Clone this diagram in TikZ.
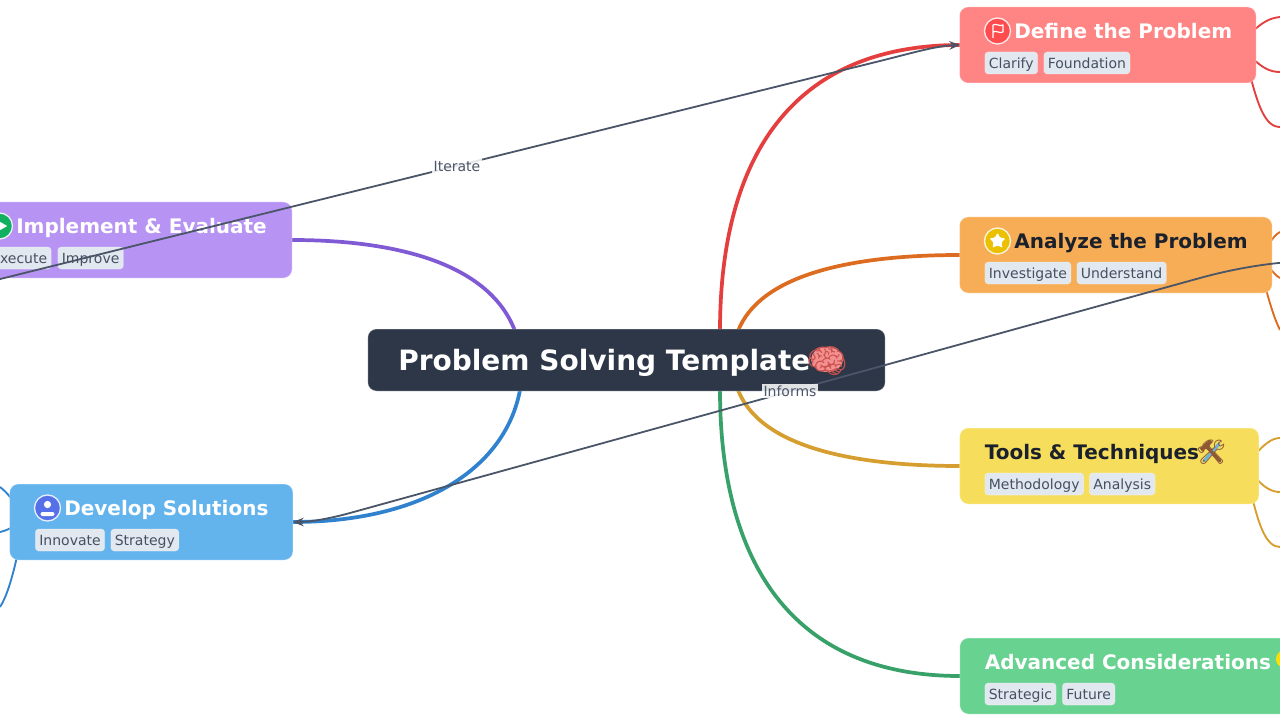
\documentclass[tikz,border=0pt]{standalone}
\usepackage{fontspec}
\setmainfont{DejaVu Sans}
\newfontfamily\emojifont{Noto Emoji}
\usetikzlibrary{arrows.meta,shapes.geometric}
\definecolor{rootc}{HTML}{2D3748}
\definecolor{dark}{HTML}{1A202C}
\definecolor{linkc}{HTML}{4A5568}
\definecolor{tagc}{HTML}{E2E8F0}
\definecolor{fR}{HTML}{FF8484}
\definecolor{fO}{HTML}{F6AD55}
\definecolor{fY}{HTML}{F6DE5C}
\definecolor{fG}{HTML}{68D391}
\definecolor{fP}{HTML}{B794F4}
\definecolor{fB}{HTML}{63B3ED}
\definecolor{lR}{HTML}{E53E3E}
\definecolor{lO}{HTML}{DD6B20}
\definecolor{lY}{HTML}{D69E2E}
\definecolor{lG}{HTML}{38A169}
\definecolor{lP}{HTML}{805AD5}
\definecolor{lB}{HTML}{3182CE}
\definecolor{iR}{HTML}{FF4D4F}
\definecolor{iY}{HTML}{EBC000}
\definecolor{iG}{HTML}{10B060}
\definecolor{iB}{HTML}{5570E8}
\definecolor{brainA}{HTML}{F48F8F}
\definecolor{brainB}{HTML}{C9524F}
\definecolor{hamm}{HTML}{8E5A35}
\definecolor{wren}{HTML}{6FB3D6}
\tikzset{
  px/.style={x=0.75pt,y=-0.75pt},
  box/.style={rectangle,rounded corners=6.5,inner sep=0pt,draw=white,draw opacity=.25,line width=.75pt},
  title/.style={anchor=base west,inner sep=0pt,font=\bfseries\fontsize{15pt}{18pt}\selectfont},
  tagbox/.style={anchor=west,rectangle,fill=tagc,draw=white,draw opacity=.3,line width=.5pt,rounded corners=2.5,inner xsep=3pt,inner ysep=0pt,text height=9.5pt,text depth=1.5pt,minimum height=16.5pt,text=linkc!90!dark,font=\fontsize{10.5pt}{12pt}\selectfont},
  main/.style={line width=2.8pt,line cap=round},
  sub/.style={line width=1.4pt},
  link/.style={draw=linkc,line width=1.35pt,-{Stealth[length=8pt,width=6.5pt]}},
  lab/.style={inner sep=1.2pt,fill=white,fill opacity=.85,text opacity=1,text=linkc,font=\fontsize{10.5pt}{12pt}\selectfont},
  icon/.style={circle,minimum size=19.5pt,inner sep=0pt,draw=white,draw opacity=.85,line width=1pt}
}
\begin{document}
\begin{tikzpicture}[px]
\useasboundingbox (0,0) rectangle (1280,720);
\clip (0,0) rectangle (1280,720);
% anchors of the connectors
\coordinate (rR) at (720,331);
\coordinate (rO) at (738,331);
\coordinate (rY) at (738,390);
\coordinate (rG) at (720,390);
\coordinate (rP) at (515,331);
\coordinate (rB) at (520,390);
\coordinate (eR) at (960,45);
\coordinate (eO) at (960,255);
\coordinate (eY) at (960,466);
\coordinate (eG) at (960,676);
\coordinate (eP) at (292,240);
\coordinate (eB) at (293,522);
\coordinate (x1) at (1280,17);
\coordinate (x2) at (1280,72);
\coordinate (x3) at (1280,127);
\coordinate (x4) at (1280,232);
\coordinate (x5) at (1280,278);
\coordinate (x6) at (1280,330);
\coordinate (x7) at (1280,438);
\coordinate (x8) at (1280,492);
\coordinate (x9) at (1280,547);
\coordinate (y1) at (0,487);
\coordinate (y2) at (0,532);
\coordinate (y3) at (0,607);
\coordinate (iterL) at (-20,284);
\coordinate (infoR) at (1290,262);
% branches behind the nodes
\draw[main,lR] (rR) .. controls (720,160) and (790,45) .. (eR);
\draw[main,lG] (rG) .. controls (720,560) and (790,676) .. (eG);
\draw[main,lO] (rO) .. controls (760,275) and (850,255) .. (eO);
\draw[main,lY] (rY) .. controls (760,446) and (850,466) .. (eY);
\draw[main,lP] (rP) .. controls (490,265) and (400,240) .. (eP);
\draw[main,lB] (rB) .. controls (505,470) and (420,522) .. (eB);
\draw[sub,lR] (1250,34) .. controls (1262,22) and (1270,18) .. (x1);
\draw[sub,lR] (1250,56) .. controls (1262,68) and (1270,72) .. (x2);
\draw[sub,lR] (1250,75) .. controls (1258,105) and (1265,127) .. (x3);
\draw[sub,lO] (1268,245) .. controls (1273,238) and (1276,234) .. (x4);
\draw[sub,lO] (1268,266) .. controls (1273,272) and (1276,276) .. (x5);
\draw[sub,lO] (1265,285) .. controls (1270,305) and (1275,320) .. (x6);
\draw[sub,lY] (1254,456) .. controls (1264,444) and (1272,438) .. (x7);
\draw[sub,lY] (1254,476) .. controls (1264,488) and (1272,492) .. (x8);
\draw[sub,lY] (1252,497) .. controls (1259,525) and (1266,547) .. (x9);
\draw[sub,lB] (14,502) .. controls (8,494) and (4,490) .. (y1);
\draw[sub,lB] (14,526) .. controls (8,530) and (4,531) .. (y2);
\draw[sub,lB] (18,552) .. controls (12,580) and (6,598) .. (y3);
% root
\node[box,fill=rootc,minimum width=388pt,minimum height=46.5pt] (root) at (626.5,360) {};
\node[anchor=base west,inner sep=0pt,text=white,font=\bfseries\fontsize{21pt}{26pt}\selectfont] (roott) at (398,370.5) {Problem Solving Template};
\fill[brainA] (827,359.5) ellipse (16 and 12.5);
\node[anchor=center,inner sep=0pt,text=brainB,font=\emojifont\fontsize{25pt}{26pt}\selectfont] (rootem) at (827,361) {🧠};
% Define the Problem
\node[box,fill=fR,minimum width=222.4pt,minimum height=57pt] (n1) at (1107.8,45) {};
\node[icon,fill=iR] (i1) at (997.5,31) {};
\draw[white,line width=.9pt,line join=round] (993,38) -- (993,25) .. controls (997,23) and (999,27) .. (1003,25) -- (1003,32) .. controls (999,34) and (997,30) .. (993,32);
\node[title,text=white] (t1) at (1014,38.6) {Define the Problem};
\node[tagbox] (a1) at (984.5,63) {Clarify};
\node[tagbox] (b1) at (1043.5,63) {Foundation};
% Analyze the Problem
\node[box,fill=fO,minimum width=234.4pt,minimum height=57pt] (n2) at (1115.8,255) {};
\node[icon,fill=iY] (i2) at (997.5,241) {};
\node[star,star points=5,star point ratio=2.1,fill=white,minimum size=13pt,inner sep=0pt,rounded corners=1pt] (s2) at (997.5,241) {};
\node[title,text=dark] (t2) at (1014,248) {Analyze the Problem};
\node[tagbox] (a2) at (984.5,273) {Investigate};
\node[tagbox] (b2) at (1076.5,273) {Understand};
% Tools & Techniques
\node[box,fill=fY,minimum width=224.4pt,minimum height=57pt] (n3) at (1109.3,466) {};
\node[title,text=dark] (t3) at (984.5,459) {Tools \& Techniques};
\draw[wren,line width=2.4pt,line cap=round] (1204,461) -- (1219,444);
\draw[hamm,line width=2.4pt,line cap=round] (1220,461) -- (1207,447);
\draw[hamm,line width=3.2pt] (1201,450) -- (1211,441);
\node[anchor=center,inner sep=0pt,text=hamm,font=\emojifont\fontsize{18pt}{20pt}\selectfont] (em3) at (1211,452) {🛠};
\node[tagbox] (a3) at (984.5,484) {Methodology};
\node[tagbox] (b3) at (1089,484) {Analysis};
% Advanced Considerations
\node[box,fill=fG,minimum width=262.4pt,minimum height=57pt] (n4) at (1134.8,676) {};
\node[title,text=white] (t4) at (984.5,669) {Advanced Considerations};
\fill[yellow!85!orange] (1285,659) circle (9);
\node[anchor=center,inner sep=0pt,text=yellow!70!orange,font=\emojifont\fontsize{16pt}{18pt}\selectfont] (em4) at (1285,661) {💡};
\node[tagbox] (a4) at (984.5,694) {Strategic};
\node[tagbox] (b4) at (1062,694) {Future};
% Implement & Evaluate
\node[box,fill=fP,minimum width=240pt,minimum height=57pt] (n5) at (132,240) {};
\node[icon,fill=iG] (i5) at (-0.5,226) {};
\node[isosceles triangle,isosceles triangle apex angle=60,fill=white,minimum size=7pt,inner sep=0pt] (p5) at (1,226) {};
\node[title,text=white] (t5) at (16,233.6) {Implement \& Evaluate};
\node[tagbox,anchor=east] (a5) at (51.5,258) {Execute};
\node[tagbox] (b5) at (57.5,258) {Improve};
% Develop Solutions
\node[box,fill=fB,minimum width=212.4pt,minimum height=57pt] (n6) at (151.3,522) {};
\node[icon,fill=iB] (i6) at (47.5,508) {};
\fill[white] (47.5,504.5) circle (3.6);
\fill[white,rounded corners=1.5pt] (40.5,516) -- (40.5,512) -- (54.5,512) -- (54.5,516) -- cycle;
\node[title,text=white] (t6) at (64,515) {Develop Solutions};
\node[tagbox] (a6) at (35,540) {Innovate};
\node[tagbox] (b6) at (110.5,540) {Strategy};
% links
\draw[link] (iterL) -- (880,61) .. controls (910,53.6) and (935,46) .. (eR);
\draw[link] (infoR) .. controls (1262,264) and (1230,269.7) .. (1200,278) -- (350,513) .. controls (330,518.5) and (310,522) .. (eB);
\node[lab] (iterate) at (457,166) {Iterate};
\node[lab] (informs) at (790,391) {Informs};
\end{tikzpicture}
\end{document}
